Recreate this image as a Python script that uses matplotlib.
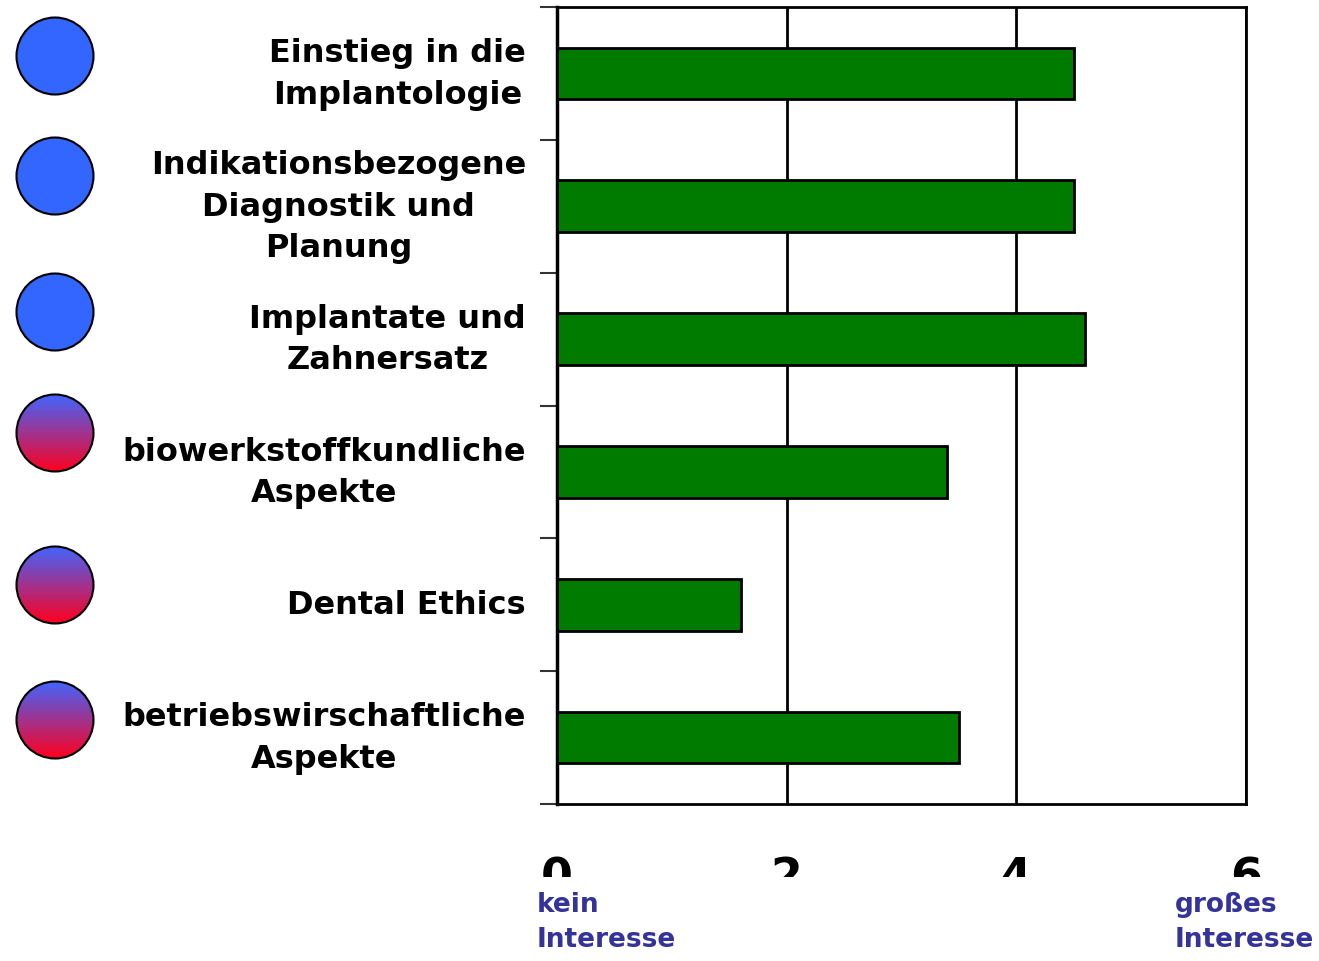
import numpy as np
import matplotlib
matplotlib.use("Agg")
import matplotlib.pyplot as plt
from matplotlib.patches import Circle, Rectangle

plt.rcParams['font.family'] = ['DejaVu Sans']

# data
topics = ['Einstieg in die\nImplantologie',
          'Indikationsbezogene\nDiagnostik und\nPlanung',
          'Implantate und\nZahnersatz',
          'biowerkstoffkundliche\nAspekte',
          'Dental Ethics',
          'betriebswirschaftliche\nAspekte']
interest = [4.5, 4.5, 4.6, 3.4, 1.6, 3.5]
gradient_dot = [False, False, False, True, True, True]
xticks = [0, 2, 4, 6]
low_label = 'kein\nInteresse'
high_label = 'großes\nInteresse'

W, H = 1319, 962
fig = plt.figure(figsize=(W / 100, H / 100), dpi=100)
ax = fig.add_axes([557 / W, 1 - 805 / H, 689 / W, 797 / H])

y = np.arange(len(topics))
ax.barh(y, interest, height=0.39, color='#007b00', edgecolor='black', linewidth=2, zorder=3)
ax.set_xlim(0, 6)
ax.set_ylim(len(topics) - 0.5, -0.5)
ax.set_xticks(xticks)
ax.set_xticklabels([str(t) for t in xticks], fontsize=33, fontweight='bold')
ax.tick_params(axis='x', length=0, pad=37)
ax.set_yticks(np.arange(len(topics) + 1) - 0.5)
ax.set_yticklabels([])
ax.tick_params(axis='y', length=12, width=1.5, color='#333333')
ax.grid(axis='x', color='black', linewidth=2, zorder=1)
for s in ax.spines.values():
    s.set_linewidth(2)
ax.spines['left'].set_linewidth(2.5)

# category labels, right edge just left of the axis
for i, lab in enumerate(topics):
    ax.text(-31 / 689, i, lab, ha='right', va='center', multialignment='center',
            fontsize=23, fontweight='bold', linespacing=1.43,
            transform=ax.get_yaxis_transform())

# overlay for dots and end labels (pixel coords)
ov = fig.add_axes([0, 0, 1, 1])
ov.set_xlim(0, W)
ov.set_ylim(H, 0)
ov.axis('off')

dot_y = [57, 177, 313, 434, 586, 721]
grad = np.linspace(0, 1, 256)[:, None]
top = np.array([0.25, 0.4, 1.0])
bot = np.array([1.0, 0.0, 0.12])
grad_img = (top[None, None, :] * (1 - grad[..., None]) + bot[None, None, :] * grad[..., None])
for cy, g in zip(dot_y, gradient_dot):
    r = 38.5
    if g:
        im = ov.imshow(grad_img, extent=(55 - r, 55 + r, cy + r, cy - r), zorder=2, aspect='auto')
        im.set_clip_path(Circle((55, cy), r, transform=ov.transData))
        ov.add_patch(Circle((55, cy), r, facecolor='none', edgecolor='black', linewidth=1.5, zorder=3))
    else:
        ov.add_patch(Circle((55, cy), r, facecolor='#3366ff', edgecolor='black', linewidth=1.5, zorder=3))
ov.set_xlim(0, W)
ov.set_ylim(H, 0)

# the tick numbers are cut off at the bottom in the original
ov.add_patch(Rectangle((500, 878), 819, 16, facecolor='white', edgecolor='none', zorder=5))

ov.text(537, 892, low_label, ha='left', va='top', fontsize=19, fontweight='bold',
        color='#333399', linespacing=1.46, zorder=6)
ov.text(1175, 892, high_label, ha='left', va='top', fontsize=19, fontweight='bold',
        color='#333399', linespacing=1.46, zorder=6)

fig.savefig('out.png', dpi=100)
